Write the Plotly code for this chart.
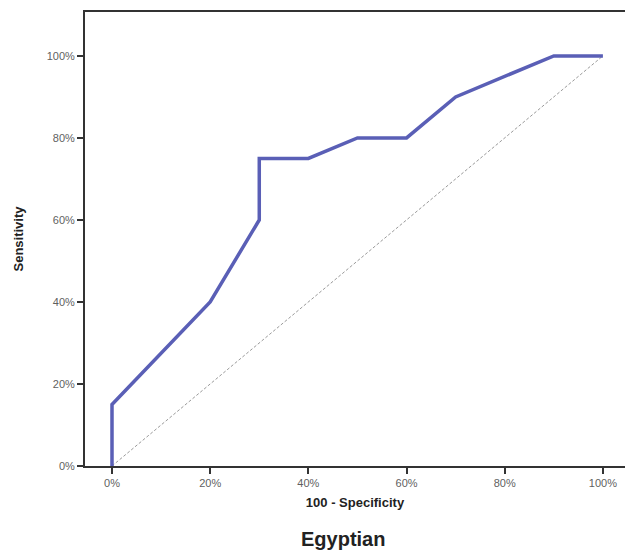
import plotly.graph_objects as go

# ROC curve points (percent)
fpr = [0, 0, 20, 30, 30, 40, 50, 60, 70, 90, 100]
tpr = [0, 15, 40, 60, 75, 75, 80, 80, 90, 100, 100]

# reference diagonal
diag_x = [0, 100]
diag_y = [0, 100]

tick_vals = [0, 20, 40, 60, 80, 100]
tick_text = ["0%", "20%", "40%", "60%", "80%", "100%"]

FONT = "Liberation Sans, Arial, sans-serif"

fig = go.Figure()
fig.add_trace(go.Scatter(
    x=diag_x, y=diag_y, mode="lines",
    line=dict(color="#9a9a9a", width=1, dash="3px,2px"),
    hoverinfo="skip", showlegend=False,
))
fig.add_trace(go.Scatter(
    x=fpr, y=tpr, mode="lines",
    line=dict(color="#5a5fb6", width=3.5),
    showlegend=False,
))

fig.update_layout(
    template="none",
    width=625, height=552,
    margin=dict(l=85, r=0, t=12, b=86),
    plot_bgcolor="white", paper_bgcolor="white",
    font=dict(family=FONT, color="#555555", size=11),
    xaxis=dict(
        range=[-5.5, 104.5], tickvals=tick_vals, ticktext=tick_text,
        showgrid=False, zeroline=False,
        showline=True, linecolor="#333333", linewidth=2, mirror=True,
        ticks="outside", ticklen=6, tickwidth=1.5, tickcolor="#333333",
        tickfont=dict(size=11, color="#5f5f5f"),
        title=dict(text="<b>100 - Specificity</b>", standoff=10,
                   font=dict(size=13, color="#222222")),
    ),
    yaxis=dict(
        range=[0, 110.7], tickvals=tick_vals, ticktext=tick_text,
        showgrid=False, zeroline=False,
        showline=True, linecolor="#333333", linewidth=2,
        ticks="outside", ticklen=6, tickwidth=1.5, tickcolor="#333333",
        tickfont=dict(size=11, color="#5f5f5f"),
        title=dict(text="<b>Sensitivity</b>", standoff=20,
                   font=dict(size=13, color="#222222")),
    ),
    annotations=[dict(
        text="<b>Egyptian</b>", x=0.477, xref="paper", yref="paper",
        y=-(539 - 466) / (552 - 12 - 86),
        showarrow=False, font=dict(size=20, color="#222222", family=FONT),
        yanchor="middle",
    )],
)

fig.write_html("out.html")
